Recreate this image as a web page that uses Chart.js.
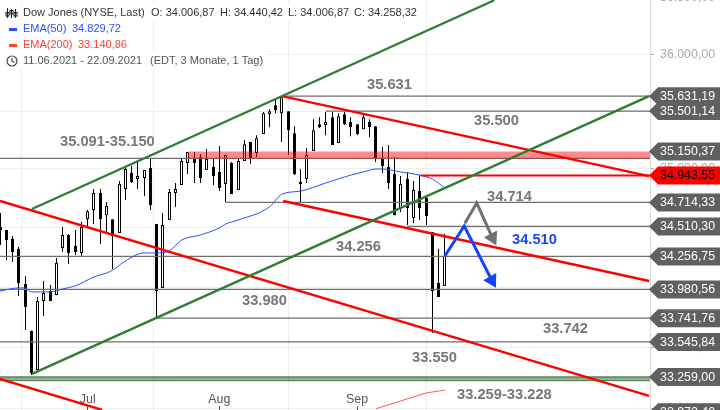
<!DOCTYPE html>
<html>
<head>
<meta charset="utf-8">
<title>Dow Jones</title>
<script src="https://cdn.jsdelivr.net/npm/chart.js@4"></script>
<style>
    html, body { margin: 0; padding: 0; background: #fff; overflow: hidden; }
    canvas { display: block; margin-top: -2px; }
</style>
</head>
<body>
<canvas id="chart" width="720" height="412"></canvas>
<script>
// Daily candles, 11.06.2021 - 22.09.2021
const opens = [34505,34480,34404,34320,34026,33637,33316,33885,33968,33935,34328,34438,34345,34286,34572,34649,34794,34606,34572,34455,
    34828,34965,34914,34922,35008,34530,33993,34564,34794,34862,35051,35086,35103,34991,35017,34974,34871,35051,34820,35068,
    35232,35137,35301,35474,35552,35483,35500,35309,34871,34914,35154,35387,35379,35448,35223,35474,35405,35387,35344,35405,
    35370,35094,35017,34957,34666,34914,34581,34811,34751,34463,34035,34010];
const highs = [34624,34480,34429,34336,34093,33637,33918,34051,34018,34244,34505,34446,34480,34547,34649,34828,34828,34717,34572,34897,
    35017,35026,35068,34991,35086,34530,34624,34828,34879,35086,35146,35146,35129,35172,35086,35198,35120,35060,35086,35249,
    35232,35292,35492,35518,35605,35631,35500,35370,35000,35180,35431,35448,35492,35492,35483,35492,35448,35387,35474,35431,
    35370,35189,35206,35103,34939,34974,34897,34948,34777,34463,34320,34446];
const lows = [34353,34227,34210,33926,33645,33275,33316,33760,33885,33935,34294,34194,34269,34261,34505,34530,34361,34446,34151,34455,
    34734,34880,34828,34769,34649,33752,33993,34564,34675,34862,34957,34880,34880,34991,34862,34811,34717,34785,34820,35068,
    35043,35103,35301,35361,35483,35232,35120,34948,34709,34880,35154,35353,35292,35206,35223,35379,35283,35292,35344,35275,
    35060,34965,34828,34606,34632,34522,34538,34564,34522,33620,33918,34010];
const closes = [34480,34395,34294,34035,33835,33291,33885,33951,33885,34202,34438,34286,34294,34505,34640,34794,34572,34683,34429,34871,
    35000,34888,34939,34991,34692,33968,34522,34803,34828,35068,35146,35051,34922,35086,34939,34837,35120,34785,35068,35214,
    35094,35266,35483,35500,35509,35622,35335,34957,34888,35120,35335,35361,35405,35206,35457,35387,35361,35301,35448,35361,
    35094,35026,34880,34606,34871,34666,34820,34666,34598,33968,33918,34261];

const ema50Idx = [0,3,4,5,8,10,12,15,17,18,20,23,25,27,29,32,35,36,38,43,45,48,52,56,58,60,61,64,67,69,71];
const ema50Vals = [33968,33993,33993,33960,33960,33985,34010,34085,34118,34143,34219,34286,34286,34303,34395,34438,34497,34530,34564,34675,34785,34811,34880,34948,34974,35000,35000,34974,34948,34914,34837];
const ema200Idx = [60,68,71];
const ema200Vals = [33000,33128,33152];

// Horizontal levels, grey
const levelStartIdx = [45,52,0,36,65,0,0,25,0];
const levelVals = [35631.19,35501.14,35091,34714.33,34510.30,34256.75,33980.56,33741.76,33545.84];

// Trend lines, two points each
const greenUpperIdx = [5.1,78.9];
const greenUpperVals = [34658,36480];
const greenLowerIdx = [5.1,103.6];
const greenLowerVals = [33283,35631];
const redOneIdx = [45,103.6];
const redOneVals = [35631,34939];
const redTwoIdx = [45.2,103.6];
const redTwoVals = [34726,34051];
const redThreeIdx = [0,103.6];
const redThreeVals = [34726,33104];
const redFourIdx = [0,16.3];
const redFourVals = [33242,32991];
const resistanceIdx = [67.2,103.75];
const resistanceVals = [34943.55,34943.55];

const blueArrowIdx = [71,74.1,78.5];
const blueArrowVals = [34261,34514,34057];
const greyArrowIdx = [74.2,76.1,78.6];
const greyArrowVals = [34538,34709,34414];

const upperBandIdx = [30,103.75];
const upperBandTop = [35150.37,35150.37];
const upperBandBottom = [35091,35091];
const lowerBandIdx = [0,103.75];
const lowerBandTop = [33259,33259];
const lowerBandBottom = [33228,33228];

const monthIdx = [14,35,57];
const monthLabels = ['Jul','Aug','Sep'];
const priceTicks = [36500,36000,35500,35000,34500,34000,33500,33000];
const tagVals = [35631.19,35501.14,35150.37,34943.55,34714.33,34510.30,34256.75,33980.56,33741.76,33545.84,33259.00,32972.40];

const noteTexts = ['35.631','35.500','35.091-35.150','34.714','34.510','34.256','33.980','33.742','33.550','33.259-33.228'];
const notePixels = [[367,85],[474,121],[60,142],[487,197],[512,240],[336,247],[242,301],[543,329],[412,358],[457,395]];

const fmt = (v) => v.toLocaleString('de-DE', { minimumFractionDigits: 2, maximumFractionDigits: 2 });
const pairs = (xs, ys) => xs.map((x, i) => ({ x: x, y: ys[i] }));

const GREEN = '#2e7d32';
const RED = '#ff0000';
const LEVEL = '#6e6e6e';
const SANS = '"Liberation Sans", Arial, sans-serif';

function lineSet(xs, ys, color, width, order, extra) {
    return Object.assign({
        type: 'line',
        data: pairs(xs, ys),
        borderColor: color,
        borderWidth: width,
        pointRadius: 0,
        fill: false,
        tension: 0,
        order: order
    }, extra || {});
}

// The axes sit inside the picture, so no label padding around the plot
function clearPadding(s) {
    s.paddingTop = 0;
    s.paddingBottom = 0;
    s.paddingLeft = 0;
    s.paddingRight = 0;
}

// Put wicks and bodies on whole pixels so they stay sharp
const snapCandles = {
    id: 'snapCandles',
    beforeDatasetsDraw(chart) {
        chart.data.datasets.forEach((ds, i) => {
            if (ds.type === 'line') return;
            chart.getDatasetMeta(i).data.forEach((el) => {
                el.x = Math.floor(el.x) + 0.5;
            });
        });
    }
};

function legendRow(ctx, parts, y) {
    const last = parts[parts.length - 1];
    ctx.fillStyle = '#ffffff';
    ctx.fillRect(0, y - 8, last.x + ctx.measureText(last.text).width + 4, 16);
    parts.forEach((p) => {
        ctx.fillStyle = p.color;
        ctx.fillText(p.text, p.x, y);
    });
}

const overlay = {
    id: 'overlay',
    afterDraw(chart) {
        const ctx = chart.ctx;
        const yScale = chart.scales.y;
        const xScale = chart.scales.x;
        ctx.save();
        ctx.translate(0, 2);
        ctx.textBaseline = 'middle';
        ctx.textAlign = 'left';

        // bold annotations
        ctx.font = 'bold 14.7px ' + SANS;
        noteTexts.forEach((t, i) => {
            ctx.fillStyle = t === '34.510' ? '#1a45ff' : '#777777';
            ctx.fillText(t, notePixels[i][0], notePixels[i][1]);
        });

        // month tick marks
        ctx.strokeStyle = '#555555';
        ctx.lineWidth = 1;
        monthIdx.forEach((m) => {
            const x = Math.floor(xScale.getPixelForValue(m)) + 0.5;
            ctx.beginPath();
            ctx.moveTo(x, 406);
            ctx.lineTo(x, 410);
            ctx.stroke();
        });

        // price tags on the right
        ctx.font = '12.4px ' + SANS;
        tagVals.forEach((v) => {
            const c = yScale.getPixelForValue(v) - 2;
            const isLive = v === 34943.55;
            ctx.fillStyle = isLive ? '#ff0000' : '#606060';
            ctx.beginPath();
            ctx.moveTo(649, c);
            ctx.lineTo(658, c - 9);
            ctx.lineTo(720, c - 9);
            ctx.lineTo(720, c + 9);
            ctx.lineTo(658, c + 9);
            ctx.closePath();
            ctx.fill();
            ctx.fillStyle = isLive ? '#000000' : '#ffffff';
            ctx.fillText(fmt(v), 660, c + 0.5);
        });

        // legend block
        ctx.font = '11px ' + SANS;
        legendRow(ctx, [
            { text: 'Dow Jones (NYSE, Last)', x: 23, color: '#333333' },
            { text: 'O: 34.006,87', x: 151, color: '#333333' },
            { text: 'H: 34.440,42', x: 220, color: '#333333' },
            { text: 'L: 34.006,87', x: 288, color: '#333333' },
            { text: 'C: 34.258,32', x: 354, color: '#333333' }
        ], 13);
        legendRow(ctx, [
            { text: 'EMA(50)', x: 23, color: '#2a4eff' },
            { text: '34.829,72', x: 72, color: '#2a4eff' }
        ], 29);
        legendRow(ctx, [
            { text: 'EMA(200)', x: 23, color: '#ff4030' },
            { text: '33.140,86', x: 78, color: '#ff4030' }
        ], 45);
        legendRow(ctx, [
            { text: '11.06.2021 - 22.09.2021', x: 23, color: '#555555' },
            { text: '(EDT, 3 Monate, 1 Tag)', x: 150, color: '#555555' }
        ], 61);

        ctx.fillStyle = '#2a4eff';
        ctx.fillRect(9, 28, 8, 3);
        ctx.fillStyle = '#ff4030';
        ctx.fillRect(9, 44, 8, 3);

        // candle icon
        ctx.fillStyle = '#222222';
        ctx.strokeStyle = '#222222';
        ctx.lineWidth = 1;
        [7.5, 11.5, 15.5].forEach((x, i) => {
            ctx.beginPath();
            ctx.moveTo(x, i === 0 ? 8 : 9);
            ctx.lineTo(x, 18);
            ctx.stroke();
            ctx.strokeRect(x - 1.5, i === 1 ? 10.5 : 12.5, 3, 3.5);
        });

        // clock icon
        ctx.strokeStyle = '#444444';
        ctx.lineWidth = 1.2;
        ctx.beginPath();
        ctx.arc(12, 61, 5, 0, Math.PI * 2);
        ctx.moveTo(12, 58);
        ctx.lineTo(12, 61);
        ctx.lineTo(14.5, 62.5);
        ctx.stroke();

        ctx.restore();
    }
};

const candleIdx = closes.map((c, i) => i);
const wicks = candleIdx.map((i) => ({ x: i, y: [lows[i], highs[i]] }));
const bodies = candleIdx.map((i) => ({ x: i, y: [opens[i], closes[i]] }));
const bodyFill = candleIdx.map((i) => (closes[i] >= opens[i] ? '#ffffff' : '#000000'));

const datasets = [
    // arrows on top
    lineSet(blueArrowIdx, blueArrowVals, '#1144ff', 3, 0, {
        pointStyle: 'triangle', pointRadius: [0, 0, 8.6], pointRotation: [0, 0, 151],
        pointBackgroundColor: '#1144ff', pointBorderWidth: 0
    }),
    lineSet(greyArrowIdx, greyArrowVals, '#707070', 3, 0, {
        pointStyle: 'triangle', pointRadius: [0, 0, 8.6], pointRotation: [0, 0, 153],
        pointBackgroundColor: '#707070', pointBorderWidth: 0
    }),
    // trend lines
    lineSet(greenUpperIdx, greenUpperVals, GREEN, 2.4, 1),
    lineSet(greenLowerIdx, greenLowerVals, GREEN, 2.4, 1),
    lineSet(redOneIdx, redOneVals, RED, 2.4, 1),
    lineSet(redTwoIdx, redTwoVals, RED, 2.4, 1),
    lineSet(redThreeIdx, redThreeVals, RED, 2.4, 1),
    lineSet(redFourIdx, redFourVals, RED, 2.4, 1),
    lineSet(resistanceIdx, resistanceVals, RED, 2, 1),
    // support and resistance bands
    lineSet(upperBandIdx, upperBandTop, 'rgba(0,0,0,0)', 0, 2, { fill: '+1', backgroundColor: 'rgba(255,0,0,0.46)' }),
    lineSet(upperBandIdx, upperBandBottom, 'rgba(0,0,0,0)', 0, 2),
    lineSet(lowerBandIdx, lowerBandTop, '#5f7f5f', 1.5, 2, { fill: '+1', backgroundColor: 'rgba(30,100,30,0.5)' }),
    lineSet(lowerBandIdx, lowerBandBottom, '#5f7f5f', 1, 2),
    // averages
    lineSet(ema50Idx, ema50Vals, '#2a4eff', 1, 3, { cubicInterpolationMode: 'monotone' }),
    lineSet(ema200Idx, ema200Vals, '#ff5a4a', 1, 3),
    // candles
    {
        type: 'bar',
        data: bodies,
        backgroundColor: bodyFill,
        borderColor: '#000000',
        borderWidth: 1,
        borderSkipped: false,
        barThickness: 3,
        inflateAmount: 0,
        order: 5
    },
    {
        type: 'bar',
        data: wicks,
        backgroundColor: '#000000',
        borderWidth: 0,
        barThickness: 1,
        inflateAmount: 0,
        order: 6
    }
];

// Grey levels run to the right edge of the plot
levelVals.forEach((v, i) => {
    datasets.push(lineSet([levelStartIdx[i], 103.75], [v, v], LEVEL, 1.2, 4));
});

new Chart(document.getElementById('chart'), {
    type: 'bar',
    data: { datasets: datasets },
    plugins: [snapCandles, overlay],
    options: {
        responsive: false,
        animation: false,
        devicePixelRatio: 1,
        layout: { padding: 0, autoPadding: false },
        plugins: {
            legend: { display: false },
            tooltip: { enabled: false },
            title: { display: false }
        },
        scales: {
            x: {
                type: 'linear',
                offset: false,
                min: 0,
                max: 103.75,
                afterFit: (s) => { s.height = 0; clearPadding(s); },
                afterBuildTicks: (s) => { s.ticks = monthIdx.map((v) => ({ value: v })); },
                grid: { color: '#eeeeee', drawTicks: false },
                border: { display: false },
                ticks: {
                    autoSkip: false,
                    maxRotation: 0,
                    mirror: true,
                    padding: 2.5,
                    color: '#555555',
                    font: { family: SANS, size: 12.4 },
                    callback: (v) => monthLabels[monthIdx.indexOf(v)]
                }
            },
            y: {
                type: 'logarithmic',
                position: 'right',
                min: 32990,
                max: 36500,
                afterFit: (s) => { s.width = 70; clearPadding(s); },
                afterBuildTicks: (s) => { s.ticks = priceTicks.map((v) => ({ value: v })); },
                grid: { color: '#eeeeee', tickColor: '#aaaaaa', tickLength: 4 },
                border: { display: true, color: '#dddddd' },
                ticks: {
                    autoSkip: false,
                    padding: 6,
                    color: '#aaaaaa',
                    font: { family: SANS, size: 12.4 },
                    callback: (v) => fmt(v)
                }
            }
        },
        datasets: { bar: { grouped: false } }
    }
});
</script>
</body>
</html>
